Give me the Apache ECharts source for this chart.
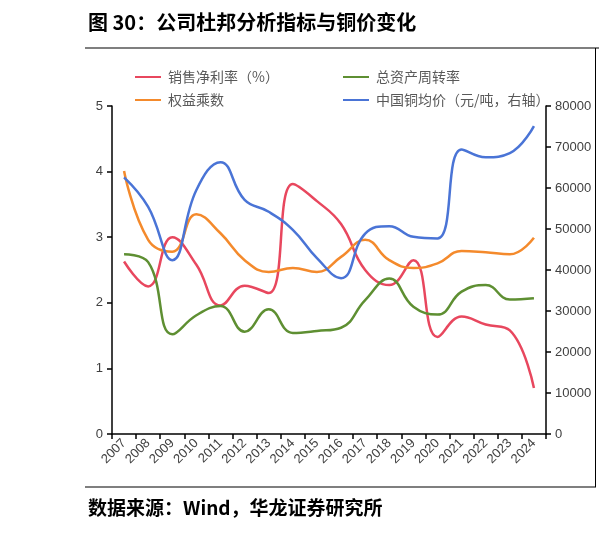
<!DOCTYPE html>
<html>
<head>
<meta charset="utf-8">
<script src="https://cdn.jsdelivr.net/npm/echarts@6/dist/echarts.min.js"></script>
<style>
  html, body { margin: 0; padding: 0; background: #fff; }
  #chart { width: 599px; height: 535px; }
</style>
</head>
<body>
<div id="chart"></div>
<script>
// 年份
var years = ["2007", "2008", "2009", "2010", "2011", "2012", "2013", "2014", "2015",
  "2016", "2017", "2018", "2019", "2020", "2021", "2022", "2023", "2024"];
// 销售净利率（%）
var netMargin = [2.63, 2.25, 3.0, 2.58, 1.96, 2.26, 2.15, 3.81, 3.55, 3.2, 2.5, 2.27, 2.65, 1.48, 1.79, 1.67, 1.58, 0.7];
// 总资产周转率
var assetTurnover = [2.74, 2.62, 1.52, 1.81, 1.95, 1.56, 1.9, 1.54, 1.57, 1.62, 2.04, 2.37, 1.94, 1.82, 2.17, 2.27, 2.05, 2.07];
// 权益乘数
var equityMultiplier = [4.01, 2.96, 2.78, 3.35, 3.06, 2.65, 2.47, 2.53, 2.47, 2.7, 2.96, 2.65, 2.53, 2.6, 2.79, 2.77, 2.74, 2.99];
// 中国铜均价（元/吨）
var copperPrice = [62600, 55400, 42400, 59500, 66300, 57100, 54200, 49800, 42900, 38000, 48900, 50700, 48100, 47700, 69400, 67500, 68500, 75100];
// 刻度
var leftTicks = [0, 5, 1];
var rightTicks = [0, 80000, 10000];

var chart = echarts.init(document.getElementById("chart"));

var cjk = "'Noto Sans CJK SC', sans-serif";
var axisFont = "'Liberation Sans', Arial, sans-serif";

function legendAt(name, left, top) {
  return {
    data: [name],
    left: left,
    top: top,
    icon: "rect",
    itemWidth: 26,
    itemHeight: 2,
    itemGap: 0,
    padding: 0,
    textStyle: { fontFamily: cjk, fontSize: 14, color: "#595959", padding: [0, 0, 0, 2] }
  };
}

function lineSeries(name, data, color, axisIdx) {
  return {
    name: name,
    type: "line",
    yAxisIndex: axisIdx,
    data: data,
    smooth: 0.45,
    symbol: "none",
    lineStyle: { width: 2.5, color: color },
    itemStyle: { color: color }
  };
}

var option = {
  animation: false,
  backgroundColor: "#fff",
  grid: { left: 112, right: 53, top: 106, bottom: 101 },
  legend: [
    legendAt("销售净利率（%）", 135, 70),
    legendAt("总资产周转率", 343, 70),
    legendAt("权益乘数", 135, 93),
    legendAt("中国铜均价（元/吨，右轴）", 343, 93)
  ],
  xAxis: {
    type: "category",
    data: years,
    boundaryGap: true,
    axisLine: { lineStyle: { color: "#000", width: 1.5 } },
    axisTick: { show: true, length: 5, lineStyle: { color: "#000", width: 1.5 } },
    axisLabel: { rotate: 45, interval: 0, fontFamily: axisFont, fontSize: 13, color: "#404040", margin: 7 }
  },
  yAxis: [
    {
      type: "value",
      min: leftTicks[0],
      max: leftTicks[1],
      interval: leftTicks[2],
      axisLine: { show: true, lineStyle: { color: "#000", width: 1.5 } },
      axisTick: { show: true, length: 5, lineStyle: { color: "#000", width: 1.5 } },
      axisLabel: { fontFamily: axisFont, fontSize: 13, color: "#404040", margin: 9 },
      splitLine: { show: false }
    },
    {
      type: "value",
      position: "right",
      min: rightTicks[0],
      max: rightTicks[1],
      interval: rightTicks[2],
      axisLine: { show: true, lineStyle: { color: "#000", width: 1.5 } },
      axisTick: { show: true, length: 5, lineStyle: { color: "#000", width: 1.5 } },
      axisLabel: {
        fontFamily: axisFont, fontSize: 13, color: "#404040", margin: 9,
        formatter: function (v) { return String(v); }
      },
      splitLine: { show: false }
    }
  ],
  series: [
    lineSeries("销售净利率（%）", netMargin, "#E8475E", 0),
    lineSeries("总资产周转率", assetTurnover, "#5E8F32", 0),
    lineSeries("权益乘数", equityMultiplier, "#F48A2C", 0),
    lineSeries("中国铜均价（元/吨，右轴）", copperPrice, "#4A74D6", 1)
  ],
  graphic: [
    // 标题
    {
      type: "text", left: 88, top: 12,
      style: { text: "图 30：公司杜邦分析指标与铜价变化", font: "bold 20px " + cjk, fill: "#000" }
    },
    // 上下分隔线
    { type: "line", shape: { x1: 85, y1: 48, x2: 599, y2: 48 }, style: { stroke: "#000", lineWidth: 1.2 } },
    { type: "line", shape: { x1: 85, y1: 487, x2: 596, y2: 487 }, style: { stroke: "#000", lineWidth: 1.2 } },
    { type: "line", shape: { x1: 595.5, y1: 48, x2: 595.5, y2: 487 }, style: { stroke: "#000", lineWidth: 1 } },
    // 数据来源
    {
      type: "text", left: 88, top: 498,
      style: { text: "数据来源：Wind，华龙证券研究所", font: "bold 19px " + cjk, fill: "#000" }
    }
  ]
};

chart.setOption(option);
</script>
</body>
</html>
